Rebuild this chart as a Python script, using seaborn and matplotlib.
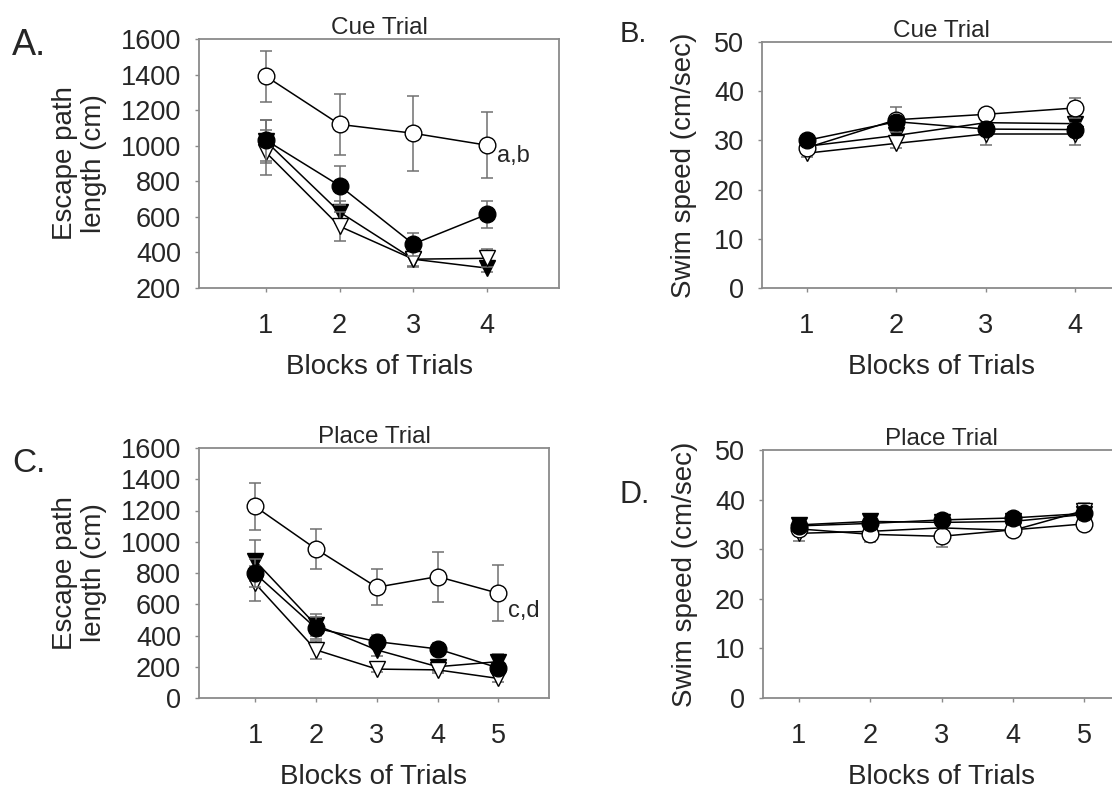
import numpy as np
import pandas as pd
import matplotlib
matplotlib.use("Agg")
import matplotlib.pyplot as plt
import seaborn as sns

sns.set_style("white")
plt.rcParams['font.family'] = ['Liberation Sans', 'DejaVu Sans']

# ---------------- data ----------------
blocks4 = [1, 2, 3, 4]
blocks5 = [1, 2, 3, 4, 5]

# Panel A: Cue trial, escape path length (cm)
a_open_circle = [1390, 1120, 1070, 1003]
a_open_circle_err = [145, 170, 210, 187]
a_filled_circle = [1031, 775, 447, 614]
a_filled_circle_err = [115, 110, 65, 75]
a_filled_tri = [1025, 627, 362, 312]
a_filled_tri_err = [120, 60, 40, 20]
a_open_tri = [962, 547, 362, 367]
a_open_tri_err = [125, 80, 45, 50]

# Panel B: Cue trial, swim speed (cm/sec)
b_open_circle = [28.5, 34.2, 35.3, 36.6]
b_open_circle_err = [1.0, 2.5, 0.8, 2.0]
b_filled_circle = [30.0, 33.8, 32.3, 32.2]
b_filled_circle_err = [0.8, 0.8, 0.8, 0.8]
b_filled_tri = [28.8, 31.0, 33.6, 33.4]
b_filled_tri_err = [0.8, 1.2, 1.2, 1.5]
b_open_tri = [27.4, 29.4, 31.3, 31.3]
b_open_tri_err = [0.8, 1.0, 2.3, 2.2]

# Panel C: Place trial, escape path length (cm)
c_open_circle = [1226, 954, 709, 777, 670]
c_open_circle_err = [153, 128, 115, 160, 180]
c_filled_circle = [798, 447, 361, 314, 192]
c_filled_circle_err = [90, 70, 40, 40, 40]
c_filled_tri = [879, 467, 308, 200, 233]
c_filled_tri_err = [130, 70, 40, 30, 50]
c_open_tri = [734, 308, 185, 180, 125]
c_open_tri_err = [110, 60, 20, 20, 20]

# Panel D: Place trial, swim speed (cm/sec)
d_open_circle = [34.1, 33.0, 32.6, 33.9, 35.1]
d_open_circle_err = [1.0, 1.5, 2.2, 1.0, 1.2]
d_filled_circle = [34.7, 35.2, 35.9, 36.3, 37.2]
d_filled_circle_err = [0.8, 0.8, 0.8, 0.8, 1.0]
d_filled_tri = [34.9, 35.6, 35.4, 35.6, 37.0]
d_filled_tri_err = [0.8, 0.8, 0.8, 0.8, 1.5]
d_open_tri = [33.2, 33.6, 34.3, 33.8, 37.8]
d_open_tri_err = [1.5, 1.0, 1.0, 1.0, 1.5]

# ---------------- style ----------------
W, H = 1112, 789
fig = plt.figure(figsize=(W / 100, H / 100), dpi=100)

def rect(l, t, r, b):
    return [l / W, 1 - b / H, (r - l) / W, (b - t) / H]

SPINE = '#8a8a8a'
ERRC = '#707070'
TICK_FS = 19.5
LAB_FS = 20
TITLE_FS = 17.5
MS = 12

# series styles: (marker, facecolor), drawn in this order
styles = [
    ('filled_tri', 'v', 'black'),
    ('open_tri', 'v', 'white'),
    ('open_circle', 'o', 'white'),
    ('filled_circle', 'o', 'black'),
]

def draw_panel(ax, x, series, errs):
    for z, (key, marker, fc) in enumerate(styles):
        y = series[key]
        e = errs[key]
        ax.errorbar(x, y, yerr=e, fmt='none', ecolor=ERRC, elinewidth=1.1,
                    capsize=4, capthick=1.1, zorder=2 + 2 * z)
        df = pd.DataFrame({'block': x, 'value': y})
        sns.lineplot(data=df, x='block', y='value', ax=ax, color='black',
                     linewidth=1.1, marker=marker, markersize=MS,
                     markerfacecolor=fc, markeredgecolor='black',
                     markeredgewidth=1.0, zorder=3 + 2 * z, legend=False)
    for s in ax.spines.values():
        s.set_visible(True)
        s.set_color(SPINE)
        s.set_linewidth(1.3)
    ax.tick_params(axis='both', which='both', direction='out', length=3,
                   width=1, color=SPINE, labelsize=TICK_FS, bottom=True, left=True)
    ax.tick_params(axis='x', pad=15)
    ax.tick_params(axis='y', pad=10)
    ax.set_xlabel('Blocks of Trials', fontsize=LAB_FS, labelpad=11)

# Panel A
axA = fig.add_axes(rect(199, 39, 559, 288))
draw_panel(axA, blocks4,
           {'open_circle': a_open_circle, 'filled_circle': a_filled_circle,
            'filled_tri': a_filled_tri, 'open_tri': a_open_tri},
           {'open_circle': a_open_circle_err, 'filled_circle': a_filled_circle_err,
            'filled_tri': a_filled_tri_err, 'open_tri': a_open_tri_err})
axA.set_xlim(0.09, 4.98)
axA.set_ylim(200, 1600)
axA.set_xticks(blocks4)
axA.set_yticks(np.arange(200, 1601, 200))
axA.set_ylabel('Escape path\nlength (cm)', fontsize=LAB_FS, labelpad=10, linespacing=1.15)
axA.set_title('Cue Trial', fontsize=TITLE_FS, pad=2)
axA.text(4.14, 940, 'a,b', fontsize=17, va='center', ha='left')

# Panel B
axB = fig.add_axes(rect(762, 42, 1120, 288))
draw_panel(axB, blocks4,
           {'open_circle': b_open_circle, 'filled_circle': b_filled_circle,
            'filled_tri': b_filled_tri, 'open_tri': b_open_tri},
           {'open_circle': b_open_circle_err, 'filled_circle': b_filled_circle_err,
            'filled_tri': b_filled_tri_err, 'open_tri': b_open_tri_err})
axB.set_xlim(0.5, 4.5)
axB.set_ylim(0, 50)
axB.set_xticks(blocks4)
axB.set_yticks(np.arange(0, 51, 10))
axB.set_ylabel('Swim speed (cm/sec)', fontsize=LAB_FS, labelpad=12)
axB.set_title('Cue Trial', fontsize=TITLE_FS, pad=2)

# Panel C
axC = fig.add_axes(rect(199, 448, 549, 698))
draw_panel(axC, blocks5,
           {'open_circle': c_open_circle, 'filled_circle': c_filled_circle,
            'filled_tri': c_filled_tri, 'open_tri': c_open_tri},
           {'open_circle': c_open_circle_err, 'filled_circle': c_filled_circle_err,
            'filled_tri': c_filled_tri_err, 'open_tri': c_open_tri_err})
axC.set_xlim(0.08, 5.83)
axC.set_ylim(0, 1600)
axC.set_xticks(blocks5)
axC.set_yticks(np.arange(0, 1601, 200))
axC.set_ylabel('Escape path\nlength (cm)', fontsize=LAB_FS, labelpad=10, linespacing=1.15)
axC.set_title('Place Trial', fontsize=TITLE_FS, pad=2)
axC.text(5.16, 560, 'c,d', fontsize=17, va='center', ha='left')

# Panel D
axD = fig.add_axes(rect(763, 450, 1120, 698))
draw_panel(axD, blocks5,
           {'open_circle': d_open_circle, 'filled_circle': d_filled_circle,
            'filled_tri': d_filled_tri, 'open_tri': d_open_tri},
           {'open_circle': d_open_circle_err, 'filled_circle': d_filled_circle_err,
            'filled_tri': d_filled_tri_err, 'open_tri': d_open_tri_err})
axD.set_xlim(0.5, 5.5)
axD.set_ylim(0, 50)
axD.set_xticks(blocks5)
axD.set_yticks(np.arange(0, 51, 10))
axD.set_ylabel('Swim speed (cm/sec)', fontsize=LAB_FS, labelpad=12)
axD.set_title('Place Trial', fontsize=TITLE_FS, pad=2)

# panel letters
def letter(txt, x, y, fs):
    fig.text(x / W, 1 - y / H, txt, fontsize=fs, ha='left', va='baseline')

letter('A.', 12, 55, 26)
letter('B.', 620, 42, 21)
letter('C.', 12, 472, 24)
letter('D.', 620, 503, 22)

fig.savefig('out.png', dpi=100)
